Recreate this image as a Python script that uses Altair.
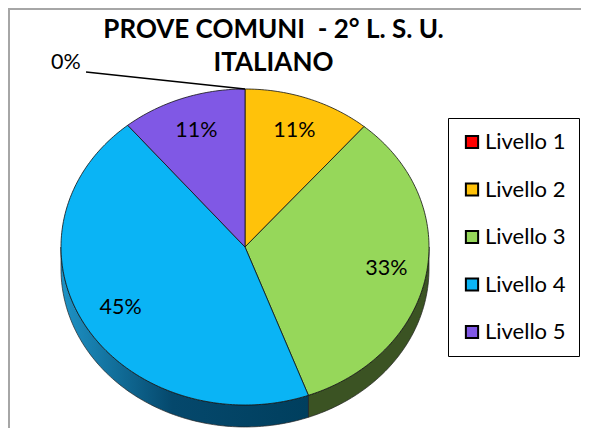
import math
import altair as alt
import pandas as pd

levels = ["Livello 1", "Livello 2", "Livello 3", "Livello 4", "Livello 5"]
shares = [0.0, 11.2, 33.2, 44.6, 11.0]
labels = ["0%", "11%", "33%", "45%", "11%"]
colors = ["#FF0000", "#FFC20A", "#96D75A", "#0AB4F5", "#8058E5"]
title_lines = ["PROVE COMUNI \u00a0- 2° L. S. U.", "ITALIANO"]
font = "Lato"
DEPTH = 0.139

def pt(deg, dy=0.0):
    a = math.radians(deg)
    return math.sin(a), math.cos(a) - dy

def arc(a0, a1, dy=0.0):
    n = max(2, int(abs(a1 - a0)) + 1)
    return [pt(a0 + (a1 - a0) * k / (n - 1), dy) for k in range(n)]

scale_x = alt.Scale(domain=[-1, 1], range=[53, 421])
scale_y = alt.Scale(domain=[-1, 1], range=[397, 81])
X = alt.X("x:Q", scale=scale_x, axis=None)
Y = alt.Y("y:Q", scale=scale_y, axis=None)

rows, text_rows = [], []
start = 0.0
bounds = {}
for lev, s, lab in zip(levels, shares, labels):
    end = start + s * 3.6
    bounds[lev] = (start, end)
    if s > 0:
        path = [(0.0, 0.0)] + arc(start, end) + [(0.0, 0.0)]
        for i, (x, y) in enumerate(path):
            rows.append({"level": lev, "i": i, "x": x, "y": y})
        mx, my = pt((start + end) / 2)
        text_rows.append({"label": lab, "x": mx * 0.78, "y": my * 0.78})
    start = end
text_rows.append({"label": labels[0], "x": -0.973, "y": 1.165})
top_df = pd.DataFrame(rows)
text_df = pd.DataFrame(text_rows)

def wall(a0, a1):
    path = arc(a0, a1) + arc(a1, a0, DEPTH)
    path.append(path[0])
    return pd.DataFrame([{"i": i, "x": x, "y": y} for i, (x, y) in enumerate(path)])

green_wall = wall(90, bounds["Livello 3"][1])
blue_wall = wall(bounds["Livello 4"][0], 270)

blue_gradient = alt.Gradient(
    gradient="linear", x1=0, x2=1, y1=0, y2=0,
    stops=[alt.GradientStop(offset=0, color="#1E93C6"),
           alt.GradientStop(offset=0.45, color="#05486C"),
           alt.GradientStop(offset=1, color="#003F5E")],
)

frame = alt.Chart(pd.DataFrame({"a": [0]})).mark_rect(
    fill="white", stroke="#A6A6A6", strokeWidth=2
).encode(x=alt.value(1), x2=alt.value(640), y=alt.value(1), y2=alt.value(425))

green_layer = alt.Chart(green_wall).mark_line(fill="#3B5323", stroke="#222222", strokeWidth=0.7).encode(x=X, y=Y, order="i:Q")
blue_layer = alt.Chart(blue_wall).mark_line(fill=blue_gradient, stroke="#222222", strokeWidth=0.7).encode(x=X, y=Y, order="i:Q")

top_layer = alt.Chart(top_df).mark_line(stroke="#111111", strokeWidth=0.8).encode(
    x=X, y=Y, order="i:Q",
    fill=alt.Fill("level:N", scale=alt.Scale(domain=levels, range=colors),
        legend=alt.Legend(
            title=None, orient="none", legendX=440, legendY=110,
            symbolType="square", symbolSize=150, symbolStrokeColor="black",
            symbolStrokeWidth=2, symbolOpacity=1,
            labelFont=font, labelFontSize=22, labelColor="black",
            rowPadding=25.5, strokeColor="black", padding=13, labelOffset=2,
        )),
)

leader = alt.Chart(pd.DataFrame({"x": [-0.864, 0.0], "y": [1.108, 1.0]})).mark_line(
    color="black", strokeWidth=1.6).encode(x=X, y=Y)

texts = alt.Chart(text_df).mark_text(font=font, fontSize=21.5, color="black").encode(x=X, y=Y, text="label:N")

chart = (
    alt.layer(frame, green_layer, blue_layer, top_layer, leader, texts)
    .properties(
        width=573, height=420,
        padding=0,
        autosize=alt.AutoSizeParams(type="none"),
        title=alt.TitleParams(
            text=title_lines, font=font, fontSize=26, fontWeight="bold", color="black",
            anchor="middle", lineHeight=33, dx=-21, dy=68, offset=0,
        ),
    )
    .configure_view(stroke=None)
    .configure(background="white")
)

chart.save("out.html", embed_options={"renderer": "svg", "actions": False})
